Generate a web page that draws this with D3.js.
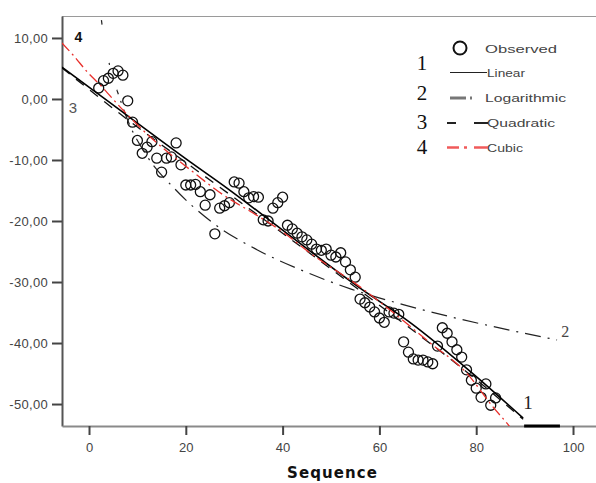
<!DOCTYPE html>
<html>
<head>
<meta charset="utf-8">
<script src="https://cdn.jsdelivr.net/npm/d3@7"></script>
<style>
  html, body { margin: 0; padding: 0; background: #fff; }
  svg { display: block; }
</style>
</head>
<body>
<svg id="chart" width="596" height="483"></svg>
<script>
// ---------- DATA ----------
const obsSeq = [2,3,4,5,6,7,8,9,10,11,12,13,14,15,16,17,18,19,20,21,22,23,24,25,26,27,28,29,30,
  31,32,33,34,35,36,37,38,39,40,41,42,43,44,45,46,47,48,49,50,51,52,53,54,55,56,57,58,59,60,
  61,62,63,64,65,66,67,68,69,70,71,72,73,74,75,76,77,78,79,80,81,82,83,84];
const obsValue = [1.8,3.0,3.4,4.2,4.6,3.9,-0.3,-3.8,-6.8,-8.9,-7.9,-7.0,-9.7,-12.0,-9.7,-9.5,-7.2,-10.8,
  -14.1,-14.1,-14.0,-15.2,-17.4,-15.7,-22.1,-17.9,-17.5,-17.0,-13.6,-13.8,-15.2,-16.2,-16.0,-16.1,
  -19.8,-20.0,-17.9,-17.0,-16.1,-20.7,-21.3,-22.0,-22.6,-23.1,-23.8,-24.6,-24.8,-24.6,-25.6,-25.9,
  -25.2,-26.7,-28.0,-29.2,-32.8,-33.4,-34.1,-34.9,-35.9,-36.6,-34.9,-35.1,-35.3,-39.8,-41.5,-42.6,
  -42.8,-42.8,-43.1,-43.4,-40.5,-37.5,-38.4,-39.8,-41.1,-42.3,-44.4,-46.1,-47.4,-48.9,-46.7,-50.2,-49.0];

// fitted curves (sequence, value)
const linSeq = [-5.6, 1.6, 20.9, 28.5, 40, 56, 66.3, 79.3, 89.7];
const linValue = [5.2, 1.0, -10.3, -14.6, -21.5, -31.0, -36.6, -45.0, -52.3];
const quadSeq = [-5.6, 10, 20, 40, 60, 80, 89.7];
const quadValue = [5.1, -4.6, -10.4, -22.0, -33.8, -46.0, -52.5];
const logHeadSeq = [2.4, 2.9, 3.5, 4.3, 5.8];
const logHeadValue = [14.0, 11.0, 8.4, 5.4, 1.4];
const logSeq = [5.8, 8, 12, 17.8, 25.4, 34.7, 44, 54.3, 64.9, 75.2, 86.4, 96.7];
const logValue = [1.4, -3.5, -9.4, -14.8, -20.2, -24.7, -28.1, -31.2, -33.7, -35.8, -37.8, -39.5];
const cubSeq = [-5.6, -3.3, -0.2, 2.3, 7, 12.6, 20.9, 27.7, 33.9, 39.5, 46.3, 56, 62.2, 70.5, 78, 83.5, 87, 89];
const cubValue = [9.2, 7.2, 4.3, 2.3, -1.8, -6.2, -11.6, -15.7, -18.7, -21.5, -25.6, -30.8, -34.6, -40.0, -44.9, -50.5, -53.8, -56];

const yTicks = [10, 0, -10, -20, -30, -40, -50];
const xTicks = [0, 20, 40, 60, 80, 100];
const legendLabels = ["Observed", "Linear", "Logarithmic", "Quadratic", "Cubic"];
const legendNums = ["1", "2", "3", "4"];
const xTitle = "Sequence";

// ---------- LAYOUT ----------
const svg = d3.select("#chart");
const L = 62, R = 596, T = 16, B = 426;
const x = d3.scaleLinear().domain([-5.58, 104.75]).range([L, R]);
const y = d3.scaleLinear().domain([-53.6, 13.6]).range([B, T]);

const loc = d3.formatLocale({decimal: ",", thousands: ".", grouping: [3], currency: ["", ""], minus: "-"});
const fmt = loc.format(".2f");

svg.append("defs").append("clipPath").attr("id", "plotclip")
  .append("rect").attr("x", L).attr("y", T).attr("width", R - L).attr("height", B - T);

// top border
svg.append("line").attr("x1", L).attr("x2", R).attr("y1", T + 0.5).attr("y2", T + 0.5)
  .attr("stroke", "#9a9a9a").attr("stroke-width", 1.2);

// Y axis
const yAxis = svg.append("g").attr("transform", `translate(${L},0)`)
  .call(d3.axisLeft(y).tickValues(yTicks).tickSize(10).tickSizeOuter(0).tickPadding(4).tickFormat(fmt));
yAxis.select(".domain").attr("stroke", "#555").attr("stroke-width", 2);
yAxis.selectAll(".tick line").attr("stroke", "#444").attr("stroke-width", 2);
yAxis.selectAll(".tick text").attr("fill", "#444").style("font-family", "Liberation Sans, Arial, sans-serif")
  .style("font-size", "13px").style("letter-spacing", "0.3px");

// X axis
const xAxis = svg.append("g").attr("transform", `translate(0,${B})`)
  .call(d3.axisBottom(x).tickValues(xTicks).tickSize(9).tickSizeOuter(0).tickPadding(8).tickFormat(d3.format("d")));
xAxis.select(".domain").attr("stroke", "#8a8a8a").attr("stroke-width", 2.2);
xAxis.selectAll(".tick line").attr("stroke", "#444").attr("stroke-width", 2);
xAxis.selectAll(".tick text").attr("fill", "#444").style("font-family", "Liberation Sans, Arial, sans-serif")
  .style("font-size", "13px");

// thick black segment on the x axis
svg.append("line").attr("x1", x(89.9)).attr("x2", x(97.3)).attr("y1", B).attr("y2", B)
  .attr("stroke", "#000").attr("stroke-width", 3);

// axis title
svg.append("text").attr("x", 332).attr("y", 478).attr("text-anchor", "middle")
  .attr("textLength", 90).attr("lengthAdjust", "spacing")
  .style("font-family", "DejaVu Sans, Verdana, sans-serif").style("font-weight", "bold").style("font-size", "15px")
  .attr("fill", "#111").text(xTitle);

// ---------- MARKS ----------
const plot = svg.append("g").attr("clip-path", "url(#plotclip)");
const mkLine = (xs, ys) => d3.line().curve(d3.curveMonotoneX).x((d, i) => x(xs[i])).y((d, i) => y(ys[i]))(xs);

// observed points
plot.selectAll("circle.obs").data(obsSeq).join("circle").attr("class", "obs")
  .attr("cx", (d) => x(d)).attr("cy", (d, i) => y(obsValue[i])).attr("r", 5)
  .attr("fill", "none").attr("stroke", "#111").attr("stroke-width", 1.3);

// logarithmic (dash-dot, dark) - steep head drawn sparsely, then regular pattern
plot.append("path").attr("d", mkLine(logHeadSeq, logHeadValue)).attr("fill", "none")
  .attr("stroke", "#222").attr("stroke-width", 1.2).attr("stroke-dasharray", "0,6.5,4.5,39,2,26,2,200");
plot.append("path").attr("d", mkLine(logSeq, logValue)).attr("fill", "none")
  .attr("stroke", "#222").attr("stroke-width", 1.2).attr("stroke-dasharray", "16,7,2,7")
  .attr("stroke-dashoffset", 12);
// quadratic (long dashes)
plot.append("path").attr("d", mkLine(quadSeq, quadValue)).attr("fill", "none")
  .attr("stroke", "#111").attr("stroke-width", 1.3).attr("stroke-dasharray", "10,8");
// linear
plot.append("path").attr("d", mkLine(linSeq, linValue)).attr("fill", "none")
  .attr("stroke", "#000").attr("stroke-width", 1.6);
// cubic (red dash-dot)
plot.append("path").attr("d", mkLine(cubSeq, cubValue)).attr("fill", "none")
  .attr("stroke", "#e8302c").attr("stroke-width", 1.3).attr("stroke-dasharray", "11,4,2,4");

// curve labels in plot
const lbl = (t, px, py, size, opts = {}) => svg.append("text").attr("x", px).attr("y", py)
  .attr("text-anchor", opts.anchor || "middle").style("font-family", opts.font || "Liberation Sans, Arial, sans-serif")
  .style("font-size", size + "px").style("font-weight", opts.weight || "normal").attr("fill", opts.fill || "#222").text(t);
lbl(legendNums[3], x(-2.2), y(9.3), 14, {weight: "bold", fill: "#111"});
lbl(legendNums[2], x(-3.3), y(-2.3), 15, {fill: "#555"});
lbl(legendNums[0], x(90.7), y(-50.8), 19, {font: "Liberation Serif, Times New Roman, serif"});
lbl(legendNums[1], x(98.4), y(-39.0), 16, {font: "Liberation Serif, Times New Roman, serif", fill: "#444"});

// ---------- LEGEND ----------
const lg = svg.append("g");
const textY = [49, 73, 98, 123, 148];
const textX = [485, 487, 485, 487, 487];
const textW = [72, 38, 81, 68, 36];
legendLabels.forEach((t, i) => {
  lg.append("text").attr("x", textX[i]).attr("y", textY[i]).attr("dy", "0.35em")
    .attr("textLength", textW[i]).attr("lengthAdjust", "spacingAndGlyphs")
    .style("font-family", "Liberation Sans, Arial, sans-serif").style("font-size", "11.5px")
    .attr("fill", "#444").text(t);
});
const numY = [70, 100, 129, 154];
legendNums.forEach((t, i) => {
  lg.append("text").attr("x", 422).attr("y", numY[i]).attr("text-anchor", "middle")
    .style("font-family", "Liberation Serif, Times New Roman, serif").style("font-size", "21px")
    .attr("fill", "#111").text(t);
});
// symbols
lg.append("circle").attr("cx", 460).attr("cy", 48).attr("r", 6.5).attr("fill", "none")
  .attr("stroke", "#111").attr("stroke-width", 2);
lg.append("line").attr("x1", 450).attr("x2", 487).attr("y1", 72.5).attr("y2", 72.5)
  .attr("stroke", "#222").attr("stroke-width", 1.2);
lg.append("line").attr("x1", 450).attr("x2", 466).attr("y1", 98).attr("y2", 98)
  .attr("stroke", "#777").attr("stroke-width", 3);
lg.append("line").attr("x1", 470).attr("x2", 472).attr("y1", 98).attr("y2", 98)
  .attr("stroke", "#777").attr("stroke-width", 3);
lg.append("line").attr("x1", 447).attr("x2", 456).attr("y1", 123).attr("y2", 123)
  .attr("stroke", "#222").attr("stroke-width", 2);
lg.append("line").attr("x1", 474).attr("x2", 488).attr("y1", 123).attr("y2", 123)
  .attr("stroke", "#222").attr("stroke-width", 2);
lg.append("line").attr("x1", 447).attr("x2", 459).attr("y1", 147.5).attr("y2", 147.5)
  .attr("stroke", "#f05a5a").attr("stroke-width", 2.5);
lg.append("line").attr("x1", 464).attr("x2", 467).attr("y1", 147.5).attr("y2", 147.5)
  .attr("stroke", "#f05a5a").attr("stroke-width", 2.5);
lg.append("line").attr("x1", 474).attr("x2", 488).attr("y1", 147.5).attr("y2", 147.5)
  .attr("stroke", "#f05a5a").attr("stroke-width", 2.5);
</script>
</body>
</html>
